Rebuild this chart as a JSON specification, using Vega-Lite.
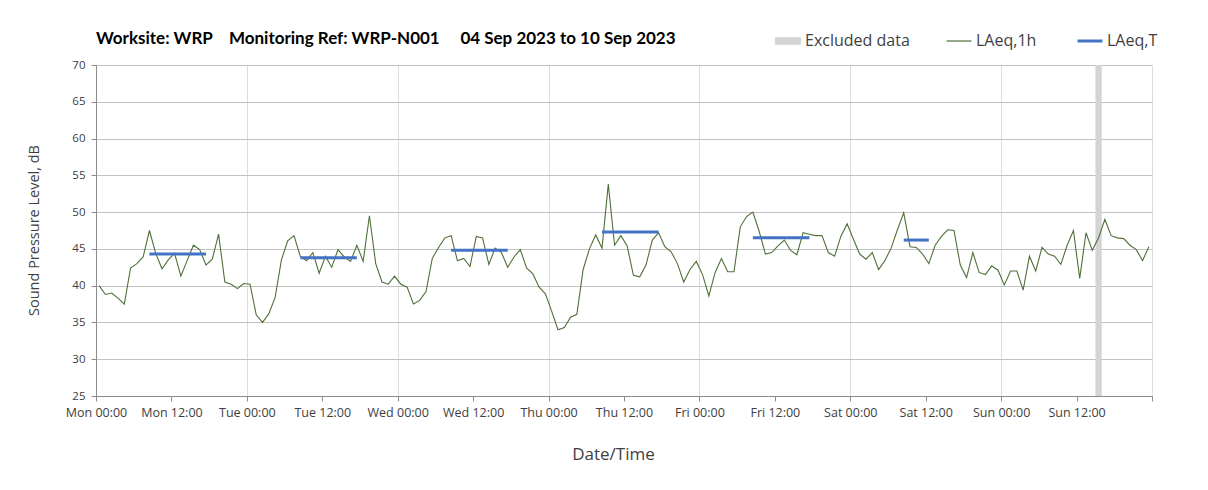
{
  "$schema": "https://vega.github.io/schema/vega-lite/v6.json",
  "autosize": {"type": "none"},
  "padding": {"left": 96, "top": 65, "right": 56, "bottom": 94},
  "width": 1056,
  "height": 331,
  "background": "white",
  "title": {
    "text": "Worksite: WRP\u00a0\u00a0\u00a0\u00a0Monitoring Ref: WRP-N001\u00a0\u00a0\u00a0\u00a0\u00a004 Sep 2023 to 10 Sep 2023",
    "anchor": "start",
    "frame": "group",
    "font": "Lato",
    "fontSize": 17,
    "fontWeight": "bold",
    "color": "#000000",
    "offset": -15
  },
  "datasets": {
    "hourly": [
      {"t":"2023-09-04T00:30","v":40.0},{"t":"2023-09-04T01:30","v":38.8},{"t":"2023-09-04T02:30","v":39.0},{"t":"2023-09-04T03:30","v":38.3},{"t":"2023-09-04T04:30","v":37.5},{"t":"2023-09-04T05:30","v":42.4},{"t":"2023-09-04T06:30","v":43.0},{"t":"2023-09-04T07:30","v":43.9},{"t":"2023-09-04T08:30","v":47.5},{"t":"2023-09-04T09:30","v":44.4},{"t":"2023-09-04T10:30","v":42.3},{"t":"2023-09-04T11:30","v":43.5},{"t":"2023-09-04T12:30","v":44.4},{"t":"2023-09-04T13:30","v":41.3},{"t":"2023-09-04T14:30","v":43.4},{"t":"2023-09-04T15:30","v":45.5},{"t":"2023-09-04T16:30","v":44.9},{"t":"2023-09-04T17:30","v":42.8},{"t":"2023-09-04T18:30","v":43.6},{"t":"2023-09-04T19:30","v":47.0},{"t":"2023-09-04T20:30","v":40.5},{"t":"2023-09-04T21:30","v":40.2},{"t":"2023-09-04T22:30","v":39.6},{"t":"2023-09-04T23:30","v":40.3},
      {"t":"2023-09-05T00:30","v":40.2},{"t":"2023-09-05T01:30","v":36.0},{"t":"2023-09-05T02:30","v":35.0},{"t":"2023-09-05T03:30","v":36.2},{"t":"2023-09-05T04:30","v":38.4},{"t":"2023-09-05T05:30","v":43.5},{"t":"2023-09-05T06:30","v":46.1},{"t":"2023-09-05T07:30","v":46.8},{"t":"2023-09-05T08:30","v":44.0},{"t":"2023-09-05T09:30","v":43.4},{"t":"2023-09-05T10:30","v":44.5},{"t":"2023-09-05T11:30","v":41.7},{"t":"2023-09-05T12:30","v":44.0},{"t":"2023-09-05T13:30","v":42.5},{"t":"2023-09-05T14:30","v":44.9},{"t":"2023-09-05T15:30","v":43.9},{"t":"2023-09-05T16:30","v":43.3},{"t":"2023-09-05T17:30","v":45.5},{"t":"2023-09-05T18:30","v":43.3},{"t":"2023-09-05T19:30","v":49.5},{"t":"2023-09-05T20:30","v":43.0},{"t":"2023-09-05T21:30","v":40.5},{"t":"2023-09-05T22:30","v":40.2},{"t":"2023-09-05T23:30","v":41.3},
      {"t":"2023-09-06T00:30","v":40.2},{"t":"2023-09-06T01:30","v":39.8},{"t":"2023-09-06T02:30","v":37.5},{"t":"2023-09-06T03:30","v":38.0},{"t":"2023-09-06T04:30","v":39.2},{"t":"2023-09-06T05:30","v":43.7},{"t":"2023-09-06T06:30","v":45.2},{"t":"2023-09-06T07:30","v":46.5},{"t":"2023-09-06T08:30","v":46.8},{"t":"2023-09-06T09:30","v":43.4},{"t":"2023-09-06T10:30","v":43.7},{"t":"2023-09-06T11:30","v":42.6},{"t":"2023-09-06T12:30","v":46.7},{"t":"2023-09-06T13:30","v":46.5},{"t":"2023-09-06T14:30","v":42.9},{"t":"2023-09-06T15:30","v":45.1},{"t":"2023-09-06T16:30","v":44.5},{"t":"2023-09-06T17:30","v":42.5},{"t":"2023-09-06T18:30","v":43.9},{"t":"2023-09-06T19:30","v":44.9},{"t":"2023-09-06T20:30","v":42.4},{"t":"2023-09-06T21:30","v":41.6},{"t":"2023-09-06T22:30","v":39.8},{"t":"2023-09-06T23:30","v":38.9},
      {"t":"2023-09-07T00:30","v":36.5},{"t":"2023-09-07T01:30","v":34.0},{"t":"2023-09-07T02:30","v":34.3},{"t":"2023-09-07T03:30","v":35.7},{"t":"2023-09-07T04:30","v":36.1},{"t":"2023-09-07T05:30","v":42.2},{"t":"2023-09-07T06:30","v":45.0},{"t":"2023-09-07T07:30","v":46.9},{"t":"2023-09-07T08:30","v":45.1},{"t":"2023-09-07T09:30","v":53.8},{"t":"2023-09-07T10:30","v":45.5},{"t":"2023-09-07T11:30","v":46.8},{"t":"2023-09-07T12:30","v":45.4},{"t":"2023-09-07T13:30","v":41.4},{"t":"2023-09-07T14:30","v":41.2},{"t":"2023-09-07T15:30","v":42.8},{"t":"2023-09-07T16:30","v":46.2},{"t":"2023-09-07T17:30","v":47.2},{"t":"2023-09-07T18:30","v":45.3},{"t":"2023-09-07T19:30","v":44.6},{"t":"2023-09-07T20:30","v":43.0},{"t":"2023-09-07T21:30","v":40.5},{"t":"2023-09-07T22:30","v":42.2},{"t":"2023-09-07T23:30","v":43.3},
      {"t":"2023-09-08T00:30","v":41.5},{"t":"2023-09-08T01:30","v":38.6},{"t":"2023-09-08T02:30","v":41.8},{"t":"2023-09-08T03:30","v":43.7},{"t":"2023-09-08T04:30","v":41.9},{"t":"2023-09-08T05:30","v":41.9},{"t":"2023-09-08T06:30","v":48.0},{"t":"2023-09-08T07:30","v":49.4},{"t":"2023-09-08T08:30","v":50.0},{"t":"2023-09-08T09:30","v":47.4},{"t":"2023-09-08T10:30","v":44.3},{"t":"2023-09-08T11:30","v":44.5},{"t":"2023-09-08T12:30","v":45.4},{"t":"2023-09-08T13:30","v":46.2},{"t":"2023-09-08T14:30","v":44.8},{"t":"2023-09-08T15:30","v":44.2},{"t":"2023-09-08T16:30","v":47.2},{"t":"2023-09-08T17:30","v":47.0},{"t":"2023-09-08T18:30","v":46.8},{"t":"2023-09-08T19:30","v":46.8},{"t":"2023-09-08T20:30","v":44.5},{"t":"2023-09-08T21:30","v":44.0},{"t":"2023-09-08T22:30","v":46.7},{"t":"2023-09-08T23:30","v":48.4},
      {"t":"2023-09-09T00:30","v":46.3},{"t":"2023-09-09T01:30","v":44.3},{"t":"2023-09-09T02:30","v":43.6},{"t":"2023-09-09T03:30","v":44.5},{"t":"2023-09-09T04:30","v":42.2},{"t":"2023-09-09T05:30","v":43.4},{"t":"2023-09-09T06:30","v":45.1},{"t":"2023-09-09T07:30","v":47.6},{"t":"2023-09-09T08:30","v":49.9},{"t":"2023-09-09T09:30","v":45.3},{"t":"2023-09-09T10:30","v":45.2},{"t":"2023-09-09T11:30","v":44.3},{"t":"2023-09-09T12:30","v":43.0},{"t":"2023-09-09T13:30","v":45.5},{"t":"2023-09-09T14:30","v":46.7},{"t":"2023-09-09T15:30","v":47.6},{"t":"2023-09-09T16:30","v":47.5},{"t":"2023-09-09T17:30","v":42.8},{"t":"2023-09-09T18:30","v":41.1},{"t":"2023-09-09T19:30","v":44.5},{"t":"2023-09-09T20:30","v":41.8},{"t":"2023-09-09T21:30","v":41.5},{"t":"2023-09-09T22:30","v":42.7},{"t":"2023-09-09T23:30","v":42.1},
      {"t":"2023-09-10T00:30","v":40.1},{"t":"2023-09-10T01:30","v":42.0},{"t":"2023-09-10T02:30","v":42.0},{"t":"2023-09-10T03:30","v":39.4},{"t":"2023-09-10T04:30","v":44.0},{"t":"2023-09-10T05:30","v":42.0},{"t":"2023-09-10T06:30","v":45.2},{"t":"2023-09-10T07:30","v":44.3},{"t":"2023-09-10T08:30","v":44.0},{"t":"2023-09-10T09:30","v":42.9},{"t":"2023-09-10T10:30","v":45.5},{"t":"2023-09-10T11:30","v":47.5},{"t":"2023-09-10T12:30","v":41.0},{"t":"2023-09-10T13:30","v":47.2},{"t":"2023-09-10T14:30","v":44.8},{"t":"2023-09-10T15:30","v":46.5},{"t":"2023-09-10T16:30","v":49.0},{"t":"2023-09-10T17:30","v":46.8},{"t":"2023-09-10T18:30","v":46.5},{"t":"2023-09-10T19:30","v":46.4},{"t":"2023-09-10T20:30","v":45.5},{"t":"2023-09-10T21:30","v":44.9},{"t":"2023-09-10T22:30","v":43.4},{"t":"2023-09-10T23:30","v":45.3}
    ],
    "periods": [
      {"start":"2023-09-04T08:30","end":"2023-09-04T17:30","v":44.3},
      {"start":"2023-09-05T08:30","end":"2023-09-05T17:30","v":43.8},
      {"start":"2023-09-06T08:30","end":"2023-09-06T17:30","v":44.8},
      {"start":"2023-09-07T08:30","end":"2023-09-07T17:30","v":47.3},
      {"start":"2023-09-08T08:30","end":"2023-09-08T17:30","v":46.5},
      {"start":"2023-09-09T08:30","end":"2023-09-09T12:30","v":46.2}
    ],
    "excluded": [
      {"start":"2023-09-10T15:00","end":"2023-09-10T16:00"}
    ]
  },
  "layer": [
    {
      "data": {"name": "excluded"},
      "transform": [{"calculate": "'Excluded data'", "as": "series"}],
      "mark": {"type": "rect", "opacity": 1},
      "encoding": {
        "x": {"field": "start", "type": "temporal"},
        "x2": {"field": "end"},
        "color": {"field": "series", "type": "nominal"}
      }
    },
    {
      "data": {"name": "hourly"},
      "transform": [{"calculate": "'LAeq,1h'", "as": "series"}],
      "mark": {"type": "line", "strokeWidth": 1.1},
      "encoding": {
        "x": {
          "field": "t", "type": "temporal",
          "scale": {"domain": [{"year": 2023, "month": 9, "date": 4, "hours": 0}, {"year": 2023, "month": 9, "date": 11, "hours": 0}], "nice": false},
          "axis": {
            "title": "Date/Time",
            "values": [
              {"year":2023,"month":9,"date":4,"hours":0},{"year":2023,"month":9,"date":4,"hours":12},
              {"year":2023,"month":9,"date":5,"hours":0},{"year":2023,"month":9,"date":5,"hours":12},
              {"year":2023,"month":9,"date":6,"hours":0},{"year":2023,"month":9,"date":6,"hours":12},
              {"year":2023,"month":9,"date":7,"hours":0},{"year":2023,"month":9,"date":7,"hours":12},
              {"year":2023,"month":9,"date":8,"hours":0},{"year":2023,"month":9,"date":8,"hours":12},
              {"year":2023,"month":9,"date":9,"hours":0},{"year":2023,"month":9,"date":9,"hours":12},
              {"year":2023,"month":9,"date":10,"hours":0},{"year":2023,"month":9,"date":10,"hours":12},
              {"year":2023,"month":9,"date":11,"hours":0}
            ],
            "tickCount": 15,
            "labelExpr": "datum.value >= datetime(2023, 8, 11) ? '' : timeFormat(datum.value, '%a %H:%M')",
            "grid": true,
            "gridColor": "#dddddd",
            "gridOpacity": {"condition": {"test": "hours(datum.value) == 0", "value": 1}, "value": 0},
            "domainColor": "#8c8c8c",
            "tickColor": "#8c8c8c",
            "tickSize": 5,
            "labelFont": "Open Sans",
            "labelFontSize": 12.5,
            "labelColor": "#404040",
            "labelPadding": 5,
            "labelFlush": false,
            "labelOverlap": false,
            "titleFont": "Open Sans",
            "titleFontSize": 17,
            "titleFontWeight": "normal",
            "titleColor": "#404040",
            "titleY": 50,
            "titleX": 517
          }
        },
        "y": {
          "field": "v", "type": "quantitative",
          "scale": {"domain": [25, 70], "nice": false, "zero": false},
          "axis": {
            "title": "Sound Pressure Level, dB",
            "values": [25, 30, 35, 40, 45, 50, 55, 60, 65, 70],
            "tickCount": 10,
            "grid": true,
            "gridColor": "#c2c2c2",
            "domainColor": "#8c8c8c",
            "tickColor": "#8c8c8c",
            "tickSize": 5,
            "labelFont": "Open Sans",
            "labelFontSize": 11.5,
            "labelColor": "#404040",
            "labelPadding": 6,
            "labelFlush": false,
            "labelOverlap": false,
            "titleFont": "Open Sans",
            "titleFontSize": 14.5,
            "titleFontWeight": "normal",
            "titleColor": "#404040",
            "titleX": -55,
            "titleY": 165
          }
        },
        "color": {
          "field": "series", "type": "nominal",
          "scale": {"domain": ["Excluded data", "LAeq,1h", "LAeq,T"], "range": ["#d4d4d4", "#4f7039", "#4472c4"]},
          "legend": {
            "title": null, "orient": "none", "direction": "horizontal",
            "legendX": 684, "legendY": -32,
            "symbolSize": 625, "labelFontSize": 16, "labelFont": "Open Sans", "labelColor": "#404040",
            "labelOffset": 9, "columnPadding": 34,
            "symbolType": "M-1,0H1",
            "encode": {"symbols": {"update": {
              "shape": {"signal": "datum.value === 'Excluded data' ? 'M-1,-0.25H1V0.25H-1Z' : 'M-1,0H1'"},
              "fill": {"signal": "datum.value === 'Excluded data' ? '#d4d4d4' : 'transparent'"},
              "stroke": {"signal": "datum.value === 'LAeq,T' ? '#4472c4' : (datum.value === 'LAeq,1h' ? '#4f7039' : 'transparent')"},
              "strokeWidth": {"signal": "datum.value === 'LAeq,T' ? 3 : 1.2"},
              "opacity": {"value": 1}
            }}}
          }
        }
      }
    },
    {
      "data": {"name": "periods"},
      "transform": [{"calculate": "'LAeq,T'", "as": "series"}],
      "mark": {"type": "rule", "strokeWidth": 3},
      "encoding": {
        "x": {"field": "start", "type": "temporal"},
        "x2": {"field": "end"},
        "y": {"field": "v", "type": "quantitative"},
        "color": {"field": "series", "type": "nominal"}
      }
    }
  ],
  "config": {
    "view": {"stroke": null}
  }
}
